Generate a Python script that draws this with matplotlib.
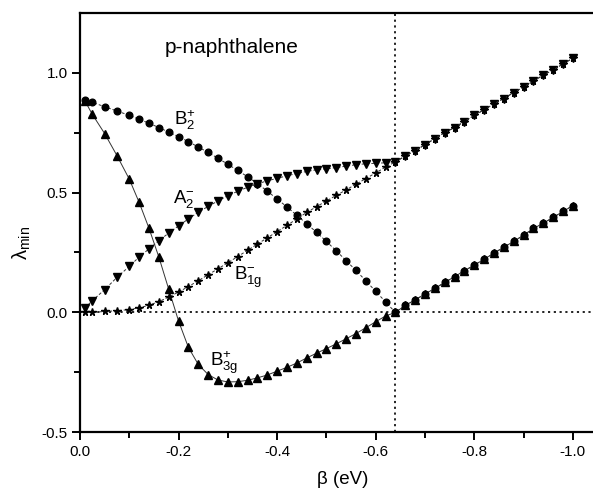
import matplotlib
matplotlib.use("Agg")
import matplotlib.pyplot as plt

plt.rcParams['font.family'] = ['Liberation Sans', 'DejaVu Sans']
plt.rcParams['mathtext.fontset'] = 'custom'
plt.rcParams['mathtext.rm'] = 'Liberation Sans'
plt.rcParams['mathtext.it'] = 'Liberation Sans:italic'
plt.rcParams['mathtext.bf'] = 'Liberation Sans:bold'
plt.rcParams['mathtext.default'] = 'regular'
plt.rcParams['axes.unicode_minus'] = False

# ---------------- data ----------------
beta = [-0.01, -0.025, -0.05, -0.075, -0.10, -0.12, -0.14, -0.16, -0.18, -0.20,
        -0.22, -0.24, -0.26, -0.28, -0.30, -0.32, -0.34, -0.36, -0.38, -0.40,
        -0.42, -0.44, -0.46, -0.48, -0.50, -0.52, -0.54, -0.56, -0.58, -0.60,
        -0.62, -0.64, -0.66, -0.68, -0.70, -0.72, -0.74, -0.76, -0.78, -0.80,
        -0.82, -0.84, -0.86, -0.88, -0.90, -0.92, -0.94, -0.96, -0.98, -1.00]

B2_plus = [0.886, 0.876, 0.858, 0.840, 0.822, 0.806, 0.789, 0.771, 0.752, 0.733,
           0.712, 0.690, 0.667, 0.643, 0.618, 0.592, 0.566, 0.537, 0.506, 0.473,
           0.440, 0.405, 0.370, 0.334, 0.296, 0.257, 0.216, 0.175, 0.132, 0.088,
           0.044, 0.000, 0.029, 0.052, 0.077, 0.100, 0.125, 0.149, 0.174, 0.197,
           0.222, 0.247, 0.272, 0.296, 0.322, 0.350, 0.372, 0.396, 0.421, 0.445]

B3g_plus = [0.882, 0.826, 0.746, 0.654, 0.556, 0.459, 0.351, 0.231, 0.097, -0.036,
            -0.146, -0.217, -0.259, -0.282, -0.290, -0.289, -0.283, -0.273, -0.261, -0.245,
            -0.229, -0.211, -0.190, -0.170, -0.151, -0.131, -0.110, -0.088, -0.064, -0.039,
            -0.015, 0.000, 0.029, 0.052, 0.077, 0.100, 0.125, 0.149, 0.174, 0.197,
            0.222, 0.247, 0.272, 0.296, 0.322, 0.350, 0.372, 0.396, 0.421, 0.445]

A2_minus = [0.018, 0.049, 0.095, 0.146, 0.192, 0.231, 0.265, 0.299, 0.331, 0.361,
            0.390, 0.418, 0.442, 0.465, 0.487, 0.505, 0.522, 0.536, 0.549, 0.559,
            0.570, 0.579, 0.588, 0.595, 0.599, 0.604, 0.610, 0.616, 0.620, 0.622,
            0.624, 0.628, 0.652, 0.675, 0.699, 0.725, 0.750, 0.771, 0.796, 0.822,
            0.845, 0.870, 0.892, 0.917, 0.940, 0.964, 0.990, 1.011, 1.036, 1.060]

B1g_minus = [0.000, 0.000, 0.004, 0.007, 0.012, 0.019, 0.030, 0.045, 0.064, 0.085,
             0.108, 0.132, 0.157, 0.182, 0.207, 0.233, 0.259, 0.285, 0.311, 0.337,
             0.363, 0.390, 0.417, 0.441, 0.465, 0.488, 0.511, 0.535, 0.558, 0.582,
             0.606, 0.628, 0.652, 0.675, 0.699, 0.725, 0.750, 0.771, 0.796, 0.822,
             0.845, 0.870, 0.892, 0.917, 0.940, 0.964, 0.990, 1.011, 1.036, 1.060]

crossing_beta = -0.64

x_ticks = [0.0, -0.2, -0.4, -0.6, -0.8, -1.0]
x_ticklabels = ['0.0', '-0.2', '-0.4', '-0.6', '-0.8', '-1.0']
x_minor = [-0.1, -0.3, -0.5, -0.7, -0.9]
y_ticks = [-0.5, 0.0, 0.5, 1.0]
y_ticklabels = ['-0.5', '0.0', '0.5', '1.0']
y_minor = [-0.25, 0.25, 0.75]

# ---------------- figure ----------------
fig = plt.figure(figsize=(5.93, 4.90), dpi=100)
ax = fig.add_axes([80 / 593, 57.7 / 490, 513 / 593, 419 / 490])

lw = 0.7
ax.axhline(0.0, color='#111111', lw=1.3, ls=(0, (1.2, 2.0)), zorder=1)
ax.axvline(crossing_beta, color='#111111', lw=1.3, ls=(0, (1.2, 2.0)), zorder=1)

ax.plot(beta, B3g_plus, color='#333333', lw=lw, ls='-', marker='^',
        markersize=5.2, markerfacecolor='black', markeredgecolor='black', zorder=3)
ax.plot(beta, B2_plus, color='#333333', lw=lw, ls=(0, (3, 2)), marker='o',
        markersize=4.8, markerfacecolor='black', markeredgecolor='black', zorder=3)
ax.plot(beta, A2_minus, color='#333333', lw=lw, ls=(0, (3, 2)), marker='v',
        markersize=5.2, markerfacecolor='black', markeredgecolor='black', zorder=3)
ax.plot(beta, B1g_minus, color='#333333', lw=lw, ls=(0, (3, 2)), marker='*',
        markersize=5.5, markerfacecolor='black', markeredgecolor='black', zorder=3)

ax.set_xlim(0.0, -1.041)
ax.set_ylim(-0.5, 1.2475)

ax.set_xticks(x_ticks)
ax.set_xticklabels(x_ticklabels)
ax.set_xticks(x_minor, minor=True)
ax.set_yticks(y_ticks)
ax.set_yticklabels(y_ticklabels)
ax.set_yticks(y_minor, minor=True)

ax.tick_params(which='major', direction='out', length=6, width=1.4, labelsize=11, pad=3)
ax.tick_params(which='minor', direction='out', length=4.5, width=1.4)

for s in ['left', 'bottom', 'top']:
    ax.spines[s].set_linewidth(1.6)
ax.spines['right'].set_visible(False)

ax.set_xlabel('\u03b2 (eV)', fontsize=13.5, va='top')
ax.xaxis.set_label_coords(0.513, -0.093)
ax.set_ylabel(r'$\lambda_{min}$', fontsize=14.5)
ax.yaxis.set_label_coords(-0.092, 0.452)

ax.text(-0.1725, 1.083, 'p-naphthalene', fontsize=15, ha='left', va='baseline')
ax.text(-0.191, 0.782, r'B$_{2}^{+}$', fontsize=13.5, ha='left', va='baseline')
ax.text(-0.188, 0.456, r'A$_{2}^{-}$', fontsize=13.5, ha='left', va='baseline')
ax.text(-0.313, 0.136, r'B$_{1g}^{-}$', fontsize=13.5, ha='left', va='baseline')
ax.text(-0.264, -0.222, r'B$_{3g}^{+}$', fontsize=13.5, ha='left', va='baseline')

fig.savefig('out.png', dpi=100)
